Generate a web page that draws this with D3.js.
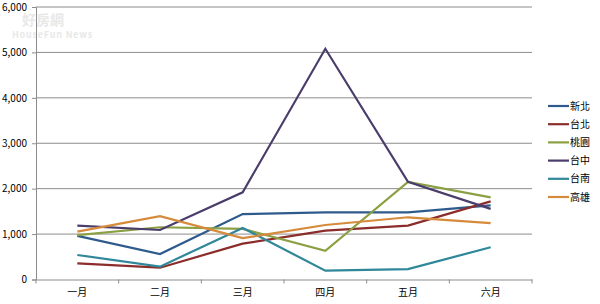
<!DOCTYPE html>
<html>
<head>
<meta charset="utf-8">
<script src="https://cdn.jsdelivr.net/npm/d3@7"></script>
<style>
  body { margin: 0; background: #fff; }
  svg text { font-family: "Noto Sans CJK TC", "DejaVu Sans", sans-serif; }
</style>
</head>
<body>
<svg id="chart" width="600" height="304"></svg>
<script>
// months and series values
const months = ["一月", "二月", "三月", "四月", "五月", "六月"];
const cities = ["新北", "台北", "桃園", "台中", "台南", "高雄"];
const xinbei   = [960, 560, 1440, 1480, 1480, 1630];
const taipei   = [357, 260, 790, 1075, 1187, 1720];
const taoyuan  = [975, 1150, 1115, 630, 2150, 1810];
const taichung = [1187, 1090, 1920, 5080, 2150, 1555];
const tainan   = [540, 283, 1135, 195, 230, 710];
const kaohsiung = [1055, 1395, 910, 1200, 1370, 1240];
const yTicks = [0, 1000, 2000, 3000, 4000, 5000, 6000];
const colors = ["#2f5b8c", "#8b2d2b", "#8ba043", "#4a3c6b", "#2f8799", "#d68a3c"];

const seriesValues = [xinbei, taipei, taoyuan, taichung, tainan, kaohsiung];

const svg = d3.select("#chart");
const plotLeft = 36, plotRight = 532, plotTop = 7, plotBottom = 279.5;

// scales
const x = d3.scaleBand().domain(months).range([plotLeft, plotRight]);
const y = d3.scaleLinear().domain([0, 6000]).range([plotBottom, plotTop]);

// faint watermark (behind the chart)
svg.append("text")
    .attr("x", 22).attr("y", 25)
    .attr("font-size", 14)
    .attr("font-weight", "bold")
    .attr("fill", "#e8e8e8")
    .text("好房網");
svg.append("text")
    .attr("x", 12).attr("y", 38)
    .attr("font-size", 9)
    .attr("font-weight", "bold")
    .attr("letter-spacing", 0.8)
    .attr("fill", "#e8e8e8")
    .text("HouseFun News");

// gridlines
svg.append("g")
    .selectAll("line")
    .data(yTicks.slice(1))
    .enter().append("line")
    .attr("x1", plotLeft)
    .attr("x2", plotRight)
    .attr("y1", d => y(d))
    .attr("y2", d => y(d))
    .attr("stroke", "#8c8c8c")
    .attr("stroke-width", 1);

// y axis
const yAxis = svg.append("g")
    .attr("transform", "translate(" + plotLeft + ",0)")
    .call(d3.axisLeft(y).tickValues(yTicks).tickSize(4).tickFormat(d3.format(",")));
yAxis.select(".domain").attr("stroke", "#8c8c8c");
yAxis.selectAll(".tick line").attr("stroke", "#8c8c8c");
yAxis.selectAll("text").attr("font-size", 10).attr("fill", "#000").attr("x", -9);

// x axis
const xAxis = svg.append("g")
    .attr("transform", "translate(0," + plotBottom + ")")
    .call(d3.axisBottom(x).tickSize(0).tickSizeOuter(0));
xAxis.select(".domain").attr("stroke", "#8c8c8c");
xAxis.selectAll("text").attr("font-size", 10).attr("fill", "#000").attr("dy", "1.3em");

// tick marks between categories
svg.append("g")
    .selectAll("line")
    .data(months.concat(["end"]))
    .enter().append("line")
    .attr("x1", (d, i) => plotLeft + i * x.step())
    .attr("x2", (d, i) => plotLeft + i * x.step())
    .attr("y1", plotBottom)
    .attr("y2", plotBottom + 4)
    .attr("stroke", "#8c8c8c");

// lines
const line = d3.line()
    .x((d, i) => x(months[i]) + x.bandwidth() / 2)
    .y(d => y(d));

svg.append("g")
    .selectAll("path")
    .data(seriesValues)
    .enter().append("path")
    .attr("d", d => line(d))
    .attr("fill", "none")
    .attr("stroke", (d, i) => colors[i])
    .attr("stroke-width", 2.2)
    .attr("stroke-linejoin", "miter");

// legend
const legend = svg.append("g")
    .selectAll("g")
    .data(cities)
    .enter().append("g")
    .attr("transform", (d, i) => "translate(548," + (106 + i * 18.2) + ")");
legend.append("line")
    .attr("x1", 0).attr("x2", 21)
    .attr("stroke", (d, i) => colors[i])
    .attr("stroke-width", 2.2);
legend.append("text")
    .attr("x", 22)
    .attr("dy", "0.35em")
    .attr("font-size", 10)
    .text(d => d);
</script>
</body>
</html>
